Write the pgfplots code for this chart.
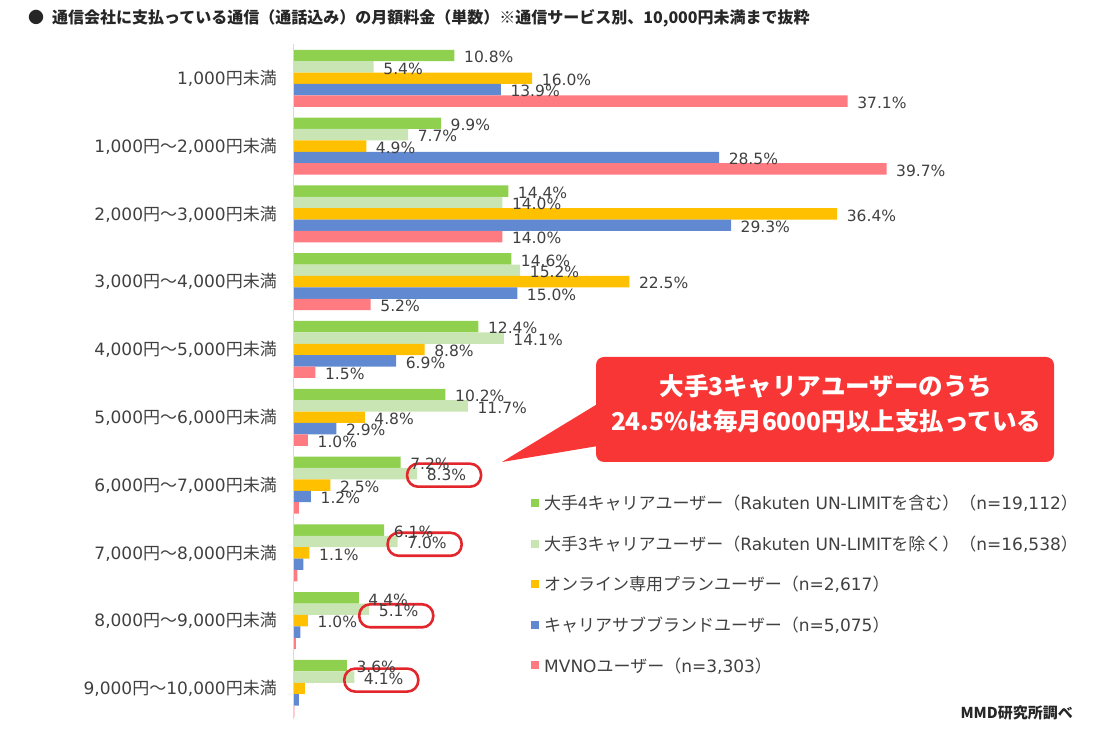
\documentclass[border=0pt]{standalone}
\usepackage{fontspec}
\setmainfont{DejaVu Sans}
\newfontfamily\jp{Noto Sans CJK JP}
\usepackage{pgfplots}
\usepackage{pgfplotstable}
\pgfplotsset{compat=1.18}
\definecolor{cA}{HTML}{8FD14F}
\definecolor{cB}{HTML}{C9E5B3}
\definecolor{cC}{HTML}{FFC000}
\definecolor{cD}{HTML}{6189D2}
\definecolor{cE}{HTML}{FF7B82}
\definecolor{txt}{HTML}{404040}
\definecolor{callout}{HTML}{F93636}
\definecolor{ring}{HTML}{E3262B}
\definecolor{axisgray}{HTML}{D9D9D9}

\pgfplotstableread{
y A B C D E
9 10.8 5.4 16.0 13.9 37.1
8 9.9 7.7 4.9 28.5 39.7
7 14.4 14.0 36.4 29.3 14.0
6 14.6 15.2 22.5 15.0 5.2
5 12.4 14.1 8.8 6.9 1.5
4 10.2 11.7 4.8 2.9 1.0
3 7.2 8.3 2.5 1.2 0.4
2 6.1 7.0 1.1 0.7 0.3
1 4.4 5.1 1.0 0.5 0.2
0 3.6 4.1 0.8 0.4 0.1
}\data

\newcommand\ring[3]{\draw[ring, line width=2.6pt, rounded corners=11pt]
  ([xshift=-10pt,yshift={11.4pt-#3-11.5pt}]axis cs:#1,#2) rectangle
  ([xshift=64pt,yshift={11.4pt-#3+11.5pt}]axis cs:#1,#2);}

\begin{document}
\begin{tikzpicture}[x=1pt,y=1pt]
\useasboundingbox (0pt,0pt) rectangle (1100pt,733pt);
\begin{axis}[
  at={(293pt,10.6pt)}, anchor=south west,
  scale only axis, width=747.5pt, height=678pt,
  xmin=0, xmax=50, ymin=-0.5, ymax=9.5,
  xbar, bar width=11.4pt,
  axis line style={draw=none},
  xtick=\empty, ytick={0,...,9},
  major tick length=0pt,
  yticklabels={
    {9,000{\jp 円～}10,000{\jp 円未満}},
    {8,000{\jp 円～}9,000{\jp 円未満}},
    {7,000{\jp 円～}8,000{\jp 円未満}},
    {6,000{\jp 円～}7,000{\jp 円未満}},
    {5,000{\jp 円～}6,000{\jp 円未満}},
    {4,000{\jp 円～}5,000{\jp 円未満}},
    {3,000{\jp 円～}4,000{\jp 円未満}},
    {2,000{\jp 円～}3,000{\jp 円未満}},
    {1,000{\jp 円～}2,000{\jp 円未満}},
    {1,000{\jp 円未満}}},
  yticklabel style={anchor=east, inner sep=0pt, xshift=-16pt,
    font=\fontsize{17}{20}\selectfont, text=txt},
  clip=false,
  visualization depends on={rawx \as \rawx},
  nodes near coords={\ifdim\rawx pt<0.95pt\relax\else\pgfmathprintnumber[fixed,fixed zerofill,precision=1,assume math mode=true]{\rawx}\%\fi},
  every node near coord/.append style={anchor=west, inner sep=0pt, xshift=9.5pt, yshift=-1.5pt,
    font=\fontsize{15.5}{17}\selectfont, text=txt},
  legend style={at={(0.3184,0.3383)}, anchor=north west, draw=none, fill=none,
    inner sep=0pt, row sep=20.5pt, font=\fontsize{17}{19}\selectfont, text=txt,
    /tikz/every odd column/.style={column sep=3pt}},
  legend cell align=left,
  legend image code/.code={\fill[#1] (0pt,-4pt) rectangle (8pt,4pt);},
]
\addplot[fill=cA, draw=none, bar shift=22.8pt] table[x=A,y=y]{\data};
\addlegendentry{{\jp 大手4キャリアユーザー（}Rakuten UN-LIMIT{\jp を含む）（}n=19,112{\jp ）}}
\addplot[fill=cB, draw=none, bar shift=11.4pt] table[x=B,y=y]{\data};
\addlegendentry{{\jp 大手3キャリアユーザー（}Rakuten UN-LIMIT{\jp を除く）（}n=16,538{\jp ）}}
\addplot[fill=cC, draw=none, bar shift=0pt] table[x=C,y=y]{\data};
\addlegendentry{{\jp オンライン専用プランユーザー（}n=2,617{\jp ）}}
\addplot[fill=cD, draw=none, bar shift=-11.4pt] table[x=D,y=y]{\data};
\addlegendentry{{\jp キャリアサブブランドユーザー（}n=5,075{\jp ）}}
\addplot[fill=cE, draw=none, bar shift=-22.8pt] table[x=E,y=y]{\data};
\addlegendentry{MVNO{\jp ユーザー（}n=3,303{\jp ）}}
\draw[axisgray, line width=1pt] (axis cs:0,9.5) -- (axis cs:0,-0.45);
\ring{8.3}{3}{1.5pt}
\ring{7.0}{2}{2.8pt}
\ring{5.1}{1}{6.5pt}
\ring{4.1}{0}{3pt}
\end{axis}
% callout
\fill[callout, rounded corners=8pt] (596pt,271pt) rectangle (1054pt,376pt);
\fill[callout] (502pt,271pt) -- (604pt,288pt) -- (604pt,333pt) -- cycle;
\node[text=white, font=\jp\bfseries\fontsize{24.5}{35}\selectfont, align=center] at (826pt,329.5pt)
  {大手3キャリアユーザーのうち\\24.5\%は毎月6000円以上支払っている};
% title
\node[anchor=west, inner sep=0pt, font=\jp\bfseries\fontsize{16}{18}\selectfont, text=black!85] at (28pt,715pt)
  {●\hspace{8pt}通信会社に支払っている通信（通話込み）の月額料金（単数）※通信サービス別、10,000円未満まで抜粋};
\node[anchor=east, inner sep=0pt, font=\jp\bfseries\fontsize{15}{18}\selectfont, text=black!85] at (1073pt,20pt)
  {MMD研究所調べ};
\end{tikzpicture}
\end{document}
